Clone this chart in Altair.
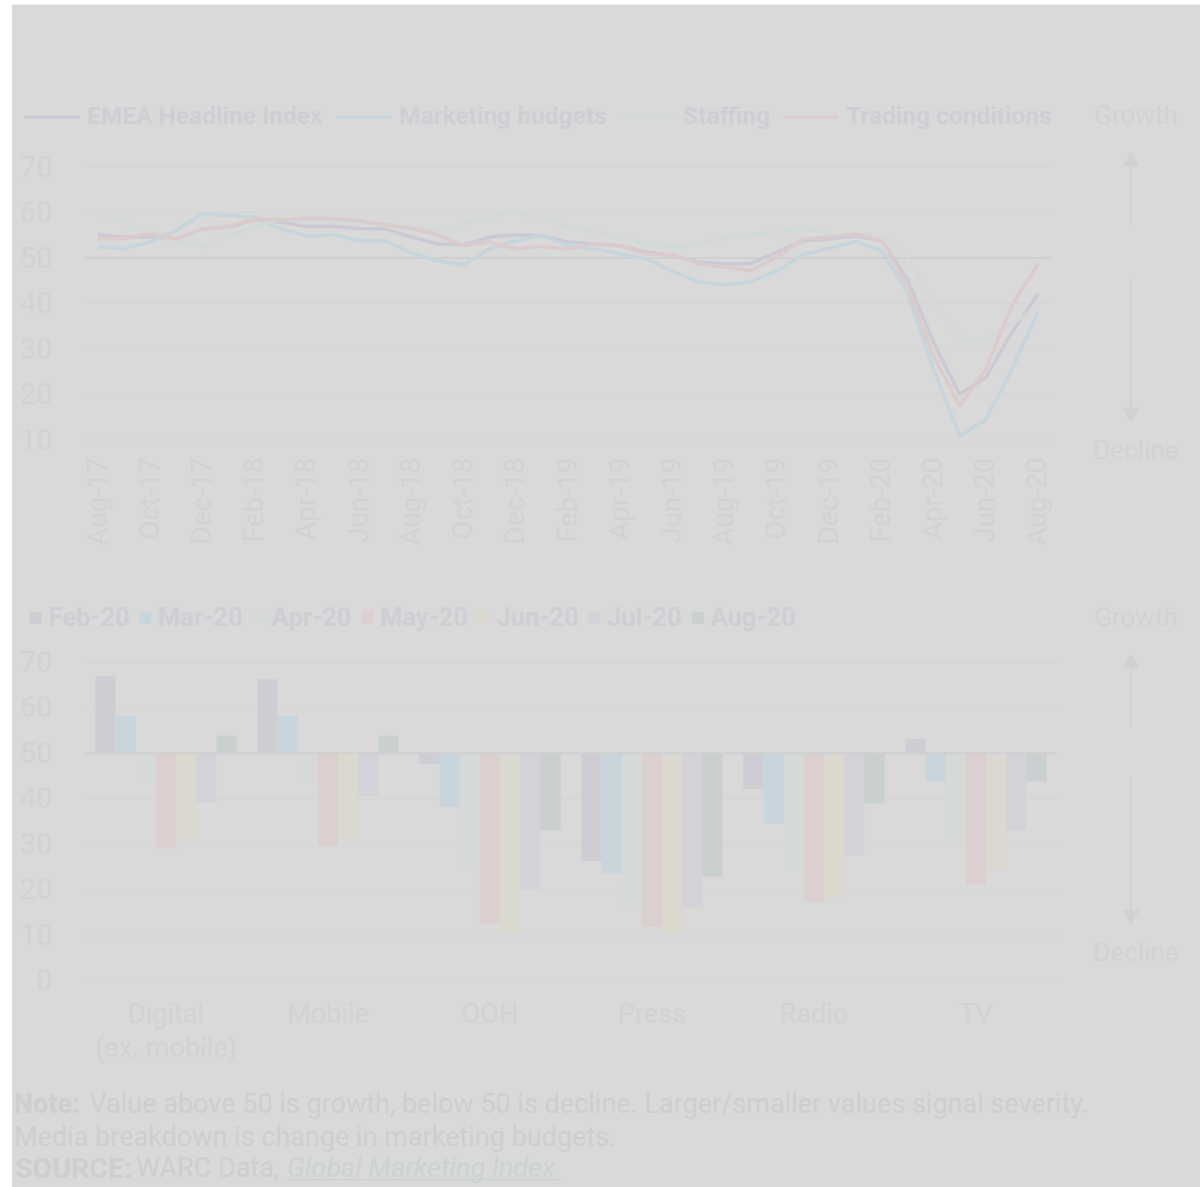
import altair as alt
import pandas as pd

# ---------------- data ----------------
months = ["Aug-17", "Sep-17", "Oct-17", "Nov-17", "Dec-17", "Jan-18", "Feb-18", "Mar-18",
          "Apr-18", "May-18", "Jun-18", "Jul-18", "Aug-18", "Sep-18", "Oct-18", "Nov-18",
          "Dec-18", "Jan-19", "Feb-19", "Mar-19", "Apr-19", "May-19", "Jun-19", "Jul-19",
          "Aug-19", "Sep-19", "Oct-19", "Nov-19", "Dec-19", "Jan-20", "Feb-20", "Mar-20",
          "Apr-20", "May-20", "Jun-20", "Jul-20", "Aug-20"]
series_names = ["EMEA Headline Index", "Marketing budgets", "Staffing", "Trading conditions"]
emea = [55.1, 54.6, 54.6, 54.3, 56.4, 56.8, 58.4, 57.9, 56.9, 57.0, 56.5, 56.4, 54.6, 53.1,
        52.9, 54.6, 55.1, 54.9, 53.5, 53.1, 52.7, 51.3, 50.5, 49.1, 48.7, 48.8, 51.3, 53.8,
        54.2, 54.9, 53.8, 45.4, 31.4, 20.1, 23.7, 33.6, 42.1]
budgets = [52.4, 52.1, 53.5, 56.0, 59.7, 59.3, 59.0, 56.4, 54.8, 55.1, 53.8, 53.8, 51.1, 49.4,
           48.5, 52.0, 53.8, 54.9, 52.7, 52.0, 50.9, 49.8, 47.2, 44.7, 44.1, 44.7, 47.2, 50.7,
           52.1, 53.6, 51.6, 42.4, 25.6, 10.9, 14.4, 25.6, 38.0]
staffing = [59.3, 57.5, 55.7, 53.6, 52.4, 54.9, 56.8, 58.6, 58.2, 58.0, 57.9, 57.5, 56.8, 56.0,
            57.5, 59.0, 60.1, 58.6, 56.8, 55.7, 54.6, 53.1, 52.4, 53.1, 54.3, 55.1, 55.7, 56.4,
            55.3, 55.1, 55.1, 50.5, 40.3, 32.5, 32.0, 35.8, 38.8]
trading = [54.3, 54.3, 55.3, 54.2, 56.4, 57.0, 58.6, 58.4, 58.7, 58.7, 58.2, 57.3, 56.5, 55.1,
           52.7, 53.5, 52.0, 52.6, 52.0, 53.1, 52.7, 50.9, 50.7, 48.7, 48.0, 47.2, 50.2, 54.2,
           54.6, 55.3, 53.8, 43.9, 28.5, 17.5, 25.6, 39.5, 48.7]
line_colors = ["#cbc9d3", "#c6d4db", "#d3d9d6", "#dbcbcc"]

media = ["Digital (ex. mobile)", "Mobile", "OOH", "Press", "Radio", "TV"]
bar_months = ["Feb-20", "Mar-20", "Apr-20", "May-20", "Jun-20", "Jul-20", "Aug-20"]
digital = [67.0, 58.2, 44.4, 29.0, 31.2, 39.2, 53.9]
mobile = [66.3, 58.2, 43.3, 29.6, 31.0, 40.6, 53.9]
ooh = [47.7, 38.2, 24.7, 12.6, 10.5, 20.0, 33.0]
press = [26.3, 23.5, 16.3, 11.8, 10.4, 16.1, 22.9]
radio = [42.2, 34.5, 24.1, 17.4, 18.3, 27.5, 39.0]
tv = [53.2, 43.8, 31.4, 21.2, 24.5, 33.2, 43.8]
bar_colors = ["#cecdd4", "#c9d5dc", "#d5d9d7", "#dbcfcf", "#dbd8cf", "#d2d2d8", "#cacfcf"]

top_ticks = [10, 20, 30, 40, 50, 60, 70]
bottom_ticks = [0, 10, 20, 30, 40, 50, 60, 70]

note1_bold = "Note:"
note1 = "Value above 50 is growth, below 50 is decline. Larger/smaller values signal severity."
note2 = "Media breakdown is change in marketing budgets."
src_bold = "SOURCE:"
src = "WARC Data,"
src_link = "Global Marketing Index"

# ---------------- styles ----------------
BG = "#d9d9d9"
FONT = "Roboto"
AXIS_TXT = "#d2d2d2"
LEG_TXT = "#cecfd4"
NOTE_TXT = "#cecece"
ARROW = "#d1d1d1"
GRID = "#d4d4d4"

line_rows = []
for name, vals in zip(series_names, [emea, budgets, staffing, trading]):
    for m, v in zip(months, vals):
        line_rows.append({"month": m, "series": name, "value": v})
line_df = pd.DataFrame(line_rows)

bar_rows = []
for med, vals in zip(media, [digital, mobile, ooh, press, radio, tv]):
    for m, v in zip(bar_months, vals):
        bar_rows.append({"media": med, "bmonth": m, "value": v})
bar_df = pd.DataFrame(bar_rows)

one = pd.DataFrame({"k": [0]})


def txt(s, x, y, size, color, weight="normal", align="left", style="normal"):
    return alt.Chart(one).mark_text(
        text=s, font=FONT, fontSize=size, color=color, fontWeight=weight,
        align=align, baseline="middle", fontStyle=style,
    ).encode(x=alt.value(x), y=alt.value(y))


def arrows(ax, tx, g_y, up_c, up_end, dn_start, dn_c, d_y):
    return [
        txt("Growth", tx, g_y, 26, AXIS_TXT, align="center"),
        txt("Decline", tx, d_y, 26, AXIS_TXT, align="center"),
        alt.Chart(one).mark_rule(color=ARROW, strokeWidth=2).encode(
            x=alt.value(ax), y=alt.value(up_c), y2=alt.value(up_end)),
        alt.Chart(one).mark_point(shape="triangle-up", filled=True, size=300, color=ARROW,
                                  opacity=1).encode(x=alt.value(ax), y=alt.value(up_c)),
        alt.Chart(one).mark_rule(color=ARROW, strokeWidth=2).encode(
            x=alt.value(ax), y=alt.value(dn_start), y2=alt.value(dn_c)),
        alt.Chart(one).mark_point(shape="triangle-down", filled=True, size=300, color=ARROW,
                                  opacity=1).encode(x=alt.value(ax), y=alt.value(dn_c)),
    ]


# ---------------- top chart ----------------
W1, H1 = 966, 273
# grey panel behind everything (the page around it stays white)
panel = alt.Chart(one).mark_rect(color=BG).encode(
    x=alt.value(-73), x2=alt.value(1115), y=alt.value(-162.5), y2=alt.value(1020.5))

grid_top = alt.Chart(pd.DataFrame({"g": [t for t in top_ticks if t != 50]})).mark_rule(
    color=GRID, strokeWidth=1).encode(y=alt.Y("g:Q"))

lines = alt.Chart(line_df).mark_line(strokeWidth=3.5, strokeJoin="round").encode(
    x=alt.X("month:O", sort=months, title=None,
            scale=alt.Scale(type="point", padding=0.5),
            axis=alt.Axis(values=months[::2], labelAngle=-90, labelFontSize=28,
                          labelColor=AXIS_TXT, labelPadding=17, domain=False, ticks=False,
                          grid=False, labelFont=FONT, zindex=1)),
    y=alt.Y("value:Q", title=None, scale=alt.Scale(domain=[10, 70], nice=False, zero=False),
            axis=alt.Axis(values=top_ticks, labelFontSize=29, labelColor=AXIS_TXT,
                          labelPadding=33, domain=False, ticks=False, grid=False,
                          labelFont=FONT, zindex=1)),
    color=alt.Color("series:N", sort=series_names,
                    scale=alt.Scale(domain=series_names, range=line_colors),
                    legend=alt.Legend(orient="none", legendX=-62, legendY=-79, title=None,
                                      direction="horizontal", symbolType="stroke",
                                      symbolSize=3025, symbolStrokeWidth=3,
                                      labelFontSize=24.5, labelFont=FONT, labelFontWeight="bold",
                                      labelColor=LEG_TXT, labelOffset=6, columnPadding=7,
                                      labelLimit=0, padding=0, zindex=1)),
)
rule50_top = alt.Chart(pd.DataFrame({"v": [50]})).mark_rule(color="#cfcfcf", strokeWidth=2).encode(
    y="v:Q")
top = alt.layer(
    panel, grid_top, rule50_top, lines,
    *arrows(1046, 1051, -51.5, -8, 58.5, 112.5, 248, 283.5)
).properties(width=W1, height=H1)

# ---------------- bottom chart ----------------
W2, H2 = 972, 318
bars = alt.Chart(bar_df).mark_bar().encode(
    x=alt.X("media:N", sort=media, title=None,
            scale=alt.Scale(paddingInner=0.128, paddingOuter=0.064),
            axis=alt.Axis(labelAngle=0, labelFontSize=27, labelColor=AXIS_TXT, labelPadding=21,
                          domain=False, ticks=False, grid=False, labelFont=FONT,
                          labelLineHeight=34, labelBaseline="top",
                          labelExpr="datum.value == 'Digital (ex. mobile)' ? ['Digital', '(ex. mobile)'] : datum.label")),
    xOffset=alt.XOffset("bmonth:N", sort=bar_months,
                        scale=alt.Scale(paddingInner=0, paddingOuter=0)),
    y=alt.Y("value:Q", title=None, scale=alt.Scale(domain=[0, 70], nice=False),
            axis=alt.Axis(values=bottom_ticks, labelFontSize=29, labelColor=AXIS_TXT,
                          labelPadding=33, domain=False, ticks=False, grid=True,
                          gridColor=GRID, labelFont=FONT)),
    y2=alt.datum(50),
    color=alt.Color("bmonth:N", sort=bar_months,
                    scale=alt.Scale(domain=bar_months, range=bar_colors),
                    legend=alt.Legend(orient="none", legendX=-62, legendY=-58, title=None,
                                      direction="horizontal", symbolType="square",
                                      symbolSize=144, symbolStrokeWidth=0,
                                      labelFontSize=25.5, labelFont=FONT, labelFontWeight="bold",
                                      labelColor=LEG_TXT, labelOffset=0, columnPadding=2.5,
                                      labelLimit=0, padding=0)),
)
rule50_bot = alt.Chart(pd.DataFrame({"v": [50]})).mark_rule(color="#cfcfcf", strokeWidth=2).encode(
    y="v:Q")

notes = [
    txt(note1_bold, -71, 442, 27, NOTE_TXT, weight="bold"),
    txt(note1, 4.5, 442, 27, NOTE_TXT),
    txt(note2, -71, 475, 27, NOTE_TXT),
    txt(src_bold, -70, 506, 28.5, NOTE_TXT, weight="bold"),
    txt(src, 51, 506, 27, NOTE_TXT),
    txt(src_link, 202, 506, 27, "#cbd2d2", style="italic"),
    alt.Chart(one).mark_rule(color="#cbd2d2", strokeWidth=1.5).encode(
        x=alt.value(202), x2=alt.value(477), y=alt.value(517)),
]

bottom = alt.layer(
    bars, rule50_bot, *notes,
    *arrows(1046, 1051, -45, 6 - 7.5, 63, 116, 262 - 7.5, 290)
).properties(width=W2, height=H2)

chart = alt.vconcat(top, bottom, spacing=222.5, bounds="flush").resolve_scale(
    color="independent", x="independent", y="independent"
).resolve_legend(color="independent").properties(
    padding={"left": 12, "top": 4, "right": 0, "bottom": 0},
    background="#ffffff",
).configure_view(stroke=None)

chart.save("out.html", embed_options={"renderer": "svg", "actions": False})
